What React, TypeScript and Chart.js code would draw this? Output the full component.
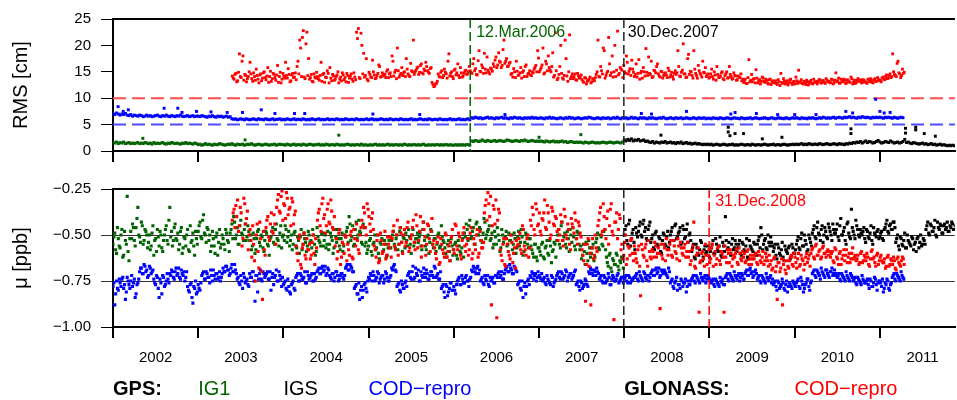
import React, { useEffect, useRef } from 'react';
import { Chart, registerables } from 'chart.js';

Chart.register(...registerables);

const FONT = '"Liberation Sans", Arial, Helvetica, sans-serif';
Chart.defaults.font.family = FONT;

const GREEN = '#006400';
const BLUE = '#0000ff';
const RED = '#ff0000';
const BLACK = '#000000';

// ---------- axes ----------
const X_MIN = 2002;
const X_MAX = 2011.88;
const STEP = 1 / 48; // sampling interval of each value list (~7.6 days)
const yearTicks = [2002, 2003, 2004, 2005, 2006, 2007, 2008, 2009, 2010, 2011];
const yearLabels = ['2002', '2003', '2004', '2005', '2006', '2007', '2008', '2009', '2010', '2011'];
const rmsTicks = [0, 5, 10, 15, 20, 25];
const muTicks = [-1, -0.75, -0.5, -0.25];
const rmsLimits = [10, 5]; // GLONASS limit, GPS limit [cm]
const muRefLines = [-0.5, -0.75];
const eventDates = [2006.192, 2007.995, 2008.997];
const eventLabels = ['12.Mar.2006', '30.Dec.2007', '31.Dec.2008'];
const legendLabels = ['GPS:', 'IG1', 'IGS', 'COD\u2212repro', 'GLONASS:', 'COD\u2212repro'];
const legendAnchorYears = [2002, 2003, 2004, 2005, 2008, 2010];

// ---------- RMS [0.1 cm] ----------
const ig1RmsStart = 2002.0;
const ig1Rms = [
  16,15,17,14,16,15,17,14,15,16,14,15,14,15,16,14,15,14,16,15,14,15,13,16,14,15,14,15,16,14,13,15,14,16,15,14,15,14,13,15,14,16,14,15,14,13,15,14,
  12,13,11,12,14,12,13,12,11,13,12,12,14,13,12,11,12,13,12,14,12,11,13,12,12,13,11,12,13,12,14,12,11,12,13,12,11,12,13,12,11,12,12,13,11,12,13,12,
  12,11,13,12,11,12,13,11,12,12,11,13,12,11,12,13,12,11,12,12,13,11,12,11,13,12,11,12,12,11,13,12,11,12,11,12,13,12,11,12,11,12,12,11,13,11,12,11,
  11,12,11,12,13,11,12,11,12,11,12,13,11,12,11,12,12,11,12,11,13,12,11,12,11,12,12,11,12,11,12,13,11,11,12,11,12,11,12,12,11,12,11,12,12,11,12,11,
  11,12,11,12,11,12,11,12,12,11,19,18,20,19,18,19,21,19,18,20,19,18,19,20,18,19,20,19,18,19,21,20,19,18,19,20,19,18,20,19,21,19,18,19,20,19,18,19,
  18,19,18,17,19,18,17,18,19,17,18,17,18,19,17,18,16,17,18,17,16,17,16,17,16,15,17,16,15,16,17,16,15,16,15,16,17,16,15,16,17,16,15,16,17,16,15,17,
];
const ig1RmsOutliers = [[2002.35, 2.4], [2003.55, 2.1], [2004.65, 3.0], [2007.0, 2.6], [2007.49, 3.1]];

const codRmsStart = 2002.0;
const codRms = [
  71,69,72,70,68,70,69,71,68,67,69,66,68,67,66,68,67,65,66,68,66,67,65,66,67,68,66,65,67,66,68,66,65,67,66,65,67,66,68,66,65,66,67,65,66,67,65,66,
  66,65,67,66,65,64,66,65,67,65,64,66,65,66,64,65,66,64,65,61,60,61,59,60,61,60,59,61,60,59,60,61,60,59,61,60,60,59,61,60,59,60,61,59,60,60,61,59,
  60,59,61,60,59,60,61,59,60,60,59,61,60,59,60,59,61,60,59,60,61,59,60,59,60,61,59,60,60,59,61,60,59,60,59,61,60,59,60,60,59,61,60,59,60,59,60,61,
  59,60,61,59,60,59,60,61,60,59,60,59,61,60,59,60,60,59,61,60,59,60,59,60,61,59,60,59,60,61,60,59,60,59,61,60,59,60,60,59,61,60,59,60,59,60,61,59,
  60,59,60,61,59,60,59,60,61,59,63,62,64,63,62,63,61,62,63,64,62,63,62,61,63,62,63,64,62,63,62,61,63,62,64,63,62,63,62,61,63,62,63,62,64,62,63,62,
  62,63,62,61,63,62,64,62,63,62,61,62,63,62,61,63,62,64,62,63,61,62,63,62,61,62,63,62,64,63,62,61,62,63,62,61,63,62,62,63,61,62,63,62,64,62,61,63,
  62,63,61,62,64,62,63,62,61,63,62,63,62,61,63,62,63,62,61,62,63,62,64,62,61,62,63,62,61,63,62,62,63,61,62,63,62,61,62,63,62,61,63,62,62,63,61,62,
  62,61,63,62,62,61,63,62,61,62,63,62,61,62,63,62,62,61,63,62,61,62,62,63,61,62,63,62,61,62,62,63,62,61,62,63,62,61,62,63,62,62,61,63,62,61,62,63,
  62,63,62,61,63,62,62,61,63,62,63,62,61,62,63,62,64,63,62,63,62,63,64,62,63,64,63,62,64,63,64,65,63,64,63,62,64,63,65,64,63,64,63,62,64,63,64,63,
  64,63,62,64,63,64,63,62,64,63,62,63,64,63,
];
const codRmsOutliers = [
  [2002.06, 8.4], [2002.12, 7.5], [2002.18, 7.8], [2002.6, 8.1], [2002.76, 8.1], [2002.81, 7.3], [2002.98, 7.5],
  [2003.15, 7.4], [2003.34, 7.3], [2003.52, 7.3], [2003.74, 7.8], [2003.9, 7.1], [2004.13, 7.1], [2004.25, 7.1],
  [2005.05, 7.0], [2005.6, 6.9], [2006.6, 6.9], [2008.2, 7.1], [2008.32, 7.0], [2008.73, 7.5], [2009.25, 7.0],
  [2009.3, 7.3], [2009.55, 7.1], [2009.8, 6.9], [2010.0, 6.9], [2010.25, 6.9], [2010.6, 7.5], [2010.68, 7.2],
  [2010.95, 9.8], [2011.0, 7.5], [2011.05, 7.2], [2011.12, 7.3],
];

const igsRmsStart = 2008.0;
const igsRms = [
  21,19,22,20,23,19,21,20,22,19,20,21,18,19,17,16,18,15,17,16,15,17,16,18,15,16,17,15,16,14,16,15,17,14,15,16,14,15,13,14,15,13,14,13,12,13,12,13,
  12,13,11,12,13,12,11,12,13,12,11,12,12,13,11,12,11,12,13,12,11,12,12,11,13,12,11,12,12,11,12,13,12,11,12,12,13,11,12,12,11,12,13,12,11,12,12,13,
  12,13,12,13,14,12,13,12,14,13,12,13,13,12,14,13,12,13,14,13,12,13,14,13,12,14,13,13,12,14,13,15,14,16,15,17,16,18,15,17,19,16,18,17,15,16,18,20,
  17,15,16,18,17,16,19,17,15,16,17,15,16,18,22,16,17,15,14,16,15,14,13,14,15,13,14,12,13,14,12,13,11,12,13,11,12,11,10,11,10,11,10,
];
const igsRmsOutliers = [
  [2008.43, 3.0], [2009.22, 3.6], [2009.22, 4.5], [2009.24, 2.9], [2009.3, 3.3], [2009.4, 3.3], [2009.62, 2.3],
  [2009.85, 2.6], [2010.66, 3.3], [2010.66, 4.2], [2011.3, 3.4], [2011.3, 4.3], [2011.42, 4.5], [2011.42, 4.0],
  [2011.52, 3.3], [2011.65, 2.8],
];

const glonassRmsStart = 2003.4;
const glonassRms = [
  142,136,147,133,184,139,180,145,131,141,168,137,148,134,143,129,146,138,150,135,158,141,132,147,139,144,130,149,136,142,168,138,145,133,147,140,135,170,210,141,228,137,225,175,139,132,146,138,
  141,134,168,145,130,139,147,158,133,142,136,144,129,140,148,135,131,143,138,146,132,140,225,232,137,200,185,143,136,149,140,172,144,138,147,160,141,146,145,151,139,148,180,142,153,195,140,147,
  143,150,175,146,141,152,210,150,157,145,162,148,155,168,152,147,158,126,123,128,146,140,152,143,149,138,184,147,141,153,144,165,139,148,142,151,145,150,152,147,175,156,144,190,150,158,185,148,
  153,146,155,165,172,158,186,168,162,210,170,160,166,145,140,150,170,143,148,138,152,160,141,147,144,150,155,162,190,150,158,195,148,165,180,153,160,140,224,135,145,200,138,143,175,132,220,141,
  137,146,134,142,139,135,130,138,132,136,129,137,133,145,210,140,152,195,138,148,215,143,180,150,141,227,147,155,139,150,180,146,156,172,149,145,140,173,148,138,150,194,143,147,170,141,152,160,
  146,140,150,143,148,139,152,144,141,147,145,190,142,149,203,146,140,183,151,143,190,147,138,152,144,170,148,141,146,140,155,136,144,160,139,142,150,135,146,138,160,141,137,143,134,142,139,133,
  130,136,128,173,134,131,137,154,129,135,132,138,130,134,127,136,131,129,133,126,131,147,128,132,130,125,134,129,131,127,133,153,130,128,132,126,131,129,134,127,130,132,131,135,129,133,128,134,
  132,129,135,130,148,133,128,136,131,134,129,133,130,137,131,128,134,132,135,130,133,130,136,131,134,129,137,132,135,133,138,136,141,137,143,139,184,145,141,170,146,143,147,
];
// second set of readings, half a sampling step later
const glonassRmsB = [
  138,145,131,149,141,170,134,143,137,150,146,132,141,155,136,144,133,148,139,142,130,151,137,145,134,162,141,129,147,138,143,156,131,144,139,148,160,146,195,215,140,203,143,136,145,131,140,149,
  137,143,132,147,140,152,129,138,145,134,141,150,136,133,144,139,147,130,142,136,148,135,213,139,223,146,140,175,133,145,139,150,137,143,163,140,148,142,139,154,146,141,170,149,137,152,144,158,
  148,141,155,143,166,150,145,153,159,149,165,146,152,160,149,156,130,122,127,132,141,149,139,155,146,170,142,150,137,155,148,143,158,140,147,153,146,160,149,165,152,145,171,151,163,147,155,178,
  149,157,151,160,178,163,170,158,192,166,175,161,168,147,156,139,151,144,158,149,141,163,146,152,143,148,158,150,176,154,163,146,170,152,158,150,186,143,152,138,160,147,136,210,142,150,137,146,
  141,135,147,138,144,132,139,127,134,140,131,136,139,150,141,160,146,190,143,151,165,148,140,200,153,144,158,153,162,147,168,151,143,155,141,165,147,136,151,158,142,149,178,145,139,153,148,165,
  142,151,138,147,144,157,140,149,136,152,148,160,141,153,146,139,175,145,150,138,155,143,162,147,140,149,158,144,138,146,141,150,134,145,140,148,137,143,150,139,145,136,148,142,135,140,146,136,
  134,128,139,131,145,136,129,138,133,127,140,132,136,129,135,126,133,131,128,135,124,130,137,127,133,129,136,126,132,140,128,131,135,127,130,134,125,132,128,136,131,127,135,129,133,130,137,131,
  130,136,127,134,131,138,129,133,136,128,135,131,140,127,134,130,137,132,129,135,131,128,134,137,130,135,132,139,134,131,140,135,144,138,146,141,150,143,166,148,139,155,149,
];

// ---------- mu [-0.01 ppb] ----------
const ig1MuStart = 2002.0;
const ig1Mu = [
  55,49,60,52,57,47,61,53,29,64,48,44,53,46,35,51,43,55,47,50,54,58,49,61,52,47,56,50,59,50,45,55,35,48,53,44,53,58,48,60,51,56,47,59,54,49,61,52,
  48,43,52,39,50,46,53,59,48,56,51,61,47,55,52,58,49,54,49,44,40,52,46,55,42,50,47,53,45,53,58,49,60,52,47,56,51,59,48,55,61,51,46,55,44,53,49,57,
  50,45,54,48,53,58,49,56,51,60,47,55,52,59,48,54,57,50,61,46,53,56,49,53,57,48,55,51,60,47,54,52,58,49,56,51,46,40,53,45,55,43,50,48,54,44,56,60,
  56,52,61,54,58,50,63,55,59,53,62,57,51,53,48,57,50,55,46,59,52,49,56,51,60,47,54,52,54,49,58,43,56,51,60,47,55,52,59,50,57,45,53,57,62,53,64,56,
  58,54,63,56,60,52,49,44,53,42,51,46,55,43,50,47,54,41,52,48,45,52,57,48,55,50,59,47,54,51,56,49,53,58,49,60,51,56,47,61,54,50,57,52,58,62,55,64,
  57,61,54,63,56,60,53,65,58,55,53,47,57,43,51,55,48,59,50,46,56,52,49,58,63,55,66,60,53,62,57,64,54,49,58,51,56,47,62,67,60,70,64,66,61,69,65,63,
];
const ig1MuB = [
  51,58,46,56,50,62,48,55,59,52,52,46,56,41,50,54,45,53,48,57,50,56,45,53,59,51,48,57,53,47,53,42,51,56,46,52,49,55,46,57,52,50,58,45,53,56,48,55,
  45,51,42,49,54,47,50,56,52,60,49,54,57,50,55,47,53,59,47,52,43,50,55,45,49,53,44,51,48,50,56,52,58,48,54,50,57,53,49,56,52,48,54,47,52,56,45,51,
  53,47,51,56,50,55,48,57,53,51,58,49,54,56,50,53,47,55,59,51,54,49,56,50,55,58,49,53,57,51,47,56,52,59,50,48,54,44,51,56,47,52,42,49,55,46,54,58,
  53,59,55,50,57,60,54,52,58,55,61,53,57,50,55,52,58,48,54,51,57,53,47,55,50,56,52,49,51,56,47,53,58,50,54,48,57,52,55,49,56,51,54,60,55,59,52,61,
  55,61,53,59,57,62,51,47,45,52,48,55,44,50,46,53,49,43,50,47,53,49,55,51,46,53,57,50,52,48,55,53,50,55,52,57,48,54,51,59,49,55,52,56,60,55,62,57,
  59,55,62,57,53,61,56,59,54,62,50,55,45,53,49,57,52,47,54,51,58,48,55,56,61,59,54,64,57,60,55,62,52,57,50,55,48,58,65,61,68,63,66,60,67,64,62,68,
];

const codMuStart = 2002.0;
const codMu = [
  78,88,75,80,76,74,79,85,73,77,75,78,74,82,76,70,68,71,67,69,72,68,70,74,77,73,84,76,72,78,75,74,71,69,73,70,72,68,74,71,70,73,78,81,76,87,79,82,
  77,80,72,70,74,71,73,69,75,72,71,74,70,73,68,70,67,69,71,66,70,69,74,76,72,79,73,75,77,71,73,70,86,72,74,69,75,71,72,70,74,80,71,73,69,75,72,78,
  77,75,80,78,82,76,79,73,71,75,72,74,70,76,72,73,71,75,74,70,68,71,67,69,72,68,72,74,71,73,70,75,72,71,74,68,66,69,67,70,79,77,82,85,78,80,76,81,
  73,71,75,72,74,70,76,73,72,74,71,75,73,68,67,69,78,76,81,77,79,75,72,70,74,67,73,71,69,75,72,68,73,71,74,70,72,67,73,71,74,79,77,84,78,81,76,80,
  78,82,75,73,77,74,76,72,75,74,69,67,70,68,71,75,73,77,74,72,78,75,73,76,72,71,73,70,74,69,67,70,68,71,67,69,77,75,80,84,76,78,74,72,70,74,71,73,
  72,74,75,73,77,74,76,72,78,75,72,70,74,71,73,69,75,72,71,73,70,77,75,80,76,78,74,77,70,68,71,69,72,70,74,72,76,73,75,71,77,74,73,75,72,76,74,73,
  74,72,76,73,75,74,73,71,75,72,74,70,73,72,75,71,69,72,68,70,73,69,71,70,72,68,76,74,79,75,80,77,74,78,76,81,75,77,74,72,76,73,75,71,74,73,76,72,
  74,76,74,78,75,77,73,76,77,73,71,75,72,74,70,73,72,75,71,74,71,69,72,68,70,72,69,74,72,76,73,75,71,74,73,76,77,75,80,76,78,74,79,77,81,76,78,75,
  77,76,74,79,75,81,77,74,78,76,71,69,73,70,72,68,71,73,69,72,70,68,71,72,73,71,75,72,74,70,73,75,72,75,73,77,74,76,72,75,76,74,79,75,78,73,77,76,
  75,78,81,76,74,79,77,73,71,75,72,74,70,73,
];
const codMuB = [
  76,82,79,74,78,73,77,81,75,79,72,76,84,77,74,68,71,66,70,73,67,71,69,76,72,79,74,82,73,77,71,76,72,70,74,68,71,73,69,72,75,70,80,77,84,78,75,81,
  79,76,71,74,70,73,76,72,69,74,71,73,75,71,70,67,69,72,68,70,66,71,73,77,75,71,76,74,78,73,70,75,72,81,71,74,70,73,71,74,70,73,77,72,75,70,74,73,
  76,79,74,81,77,75,80,72,75,71,74,73,76,70,74,72,75,71,73,69,71,68,70,67,71,69,73,71,75,70,72,74,71,73,72,67,69,66,68,70,78,82,76,80,84,77,79,75,
  74,72,70,75,73,71,74,72,76,70,73,75,72,69,66,70,77,80,75,79,76,78,71,73,70,74,68,72,75,70,73,71,69,74,72,70,73,68,72,74,70,78,81,77,83,79,76,80,
  80,77,74,77,72,76,73,75,78,73,70,68,71,67,69,74,76,72,75,77,73,74,76,72,73,70,72,74,71,68,70,66,69,71,68,70,76,79,75,78,82,75,77,73,71,72,75,70,
  73,71,74,76,72,75,77,73,76,74,71,73,70,74,72,70,73,71,74,72,69,76,78,75,79,77,75,78,71,69,72,70,68,71,73,75,72,76,74,73,77,72,75,74,71,75,73,76,
  73,75,72,76,74,73,72,74,70,73,75,71,74,72,73,70,72,69,71,68,72,70,69,71,73,70,75,78,76,73,77,79,75,76,74,78,77,75,73,75,72,74,76,73,75,72,74,73,
  75,75,77,74,76,78,75,74,77,72,74,71,73,75,72,74,71,73,72,74,70,72,69,71,73,70,71,73,75,72,74,76,73,75,72,74,76,78,75,79,77,76,80,75,78,77,79,76,
  78,75,78,73,77,79,76,74,80,75,70,72,69,71,74,70,72,69,71,73,70,72,69,71,72,74,71,73,75,72,74,71,73,74,76,73,75,77,74,76,75,77,74,78,76,74,80,75,
  76,74,79,77,75,80,76,72,74,71,73,75,72,74,
];

const igsMuStart = 2008.0;
const igsMu = [
  50,45,55,42,52,47,58,49,48,43,51,42,46,53,45,54,50,58,48,56,52,60,49,55,51,57,50,46,53,44,51,48,55,45,52,47,54,49,59,55,63,57,61,53,64,58,60,56,
  62,57,53,60,55,59,51,62,56,40,58,54,61,52,57,55,57,53,61,55,59,52,63,56,58,54,60,55,51,46,58,53,57,50,56,54,59,55,63,57,61,54,64,58,60,56,62,57,
  60,55,51,58,49,56,53,59,50,54,49,45,52,43,50,47,54,46,51,44,48,53,47,49,44,53,41,50,46,55,43,51,36,48,52,45,50,47,50,46,54,48,52,45,55,49,51,47,
  51,48,53,46,42,49,44,47,43,54,50,58,52,56,49,57,53,55,51,58,54,52,57,50,55,53,47,43,50,45,48,42,51,46,44,49,45,47,43,48,46,44,47,
];
const igsMuB = [
  47,53,44,56,49,54,46,51,45,50,44,48,52,47,43,52,57,49,55,51,59,53,50,56,48,54,48,53,45,52,49,46,54,47,51,44,50,53,57,62,55,60,58,54,62,56,59,61,
  59,55,60,52,58,56,61,54,59,53,57,60,55,58,53,59,55,60,54,58,56,62,53,57,59,55,61,53,57,50,55,52,58,54,51,56,57,61,55,60,58,62,56,59,57,63,55,60,
  58,53,57,52,56,50,55,58,52,56,47,51,46,49,53,45,50,48,52,46,50,44,49,47,51,45,50,48,53,44,49,52,46,50,42,47,51,49,48,52,47,51,49,53,46,50,48,52,
  49,52,47,44,48,45,47,43,46,52,56,51,55,53,57,50,54,56,52,55,59,51,54,56,52,55,45,49,44,48,46,50,43,47,45,49,44,46,48,45,43,47,45,
];

const glonassMuStart = 2003.4;
const glonassMu = [
  42,36,34,31,45,38,52,33,41,58,47,62,55,75,44,68,52,85,58,46,40,53,38,49,44,35,28,38,26,33,41,30,36,45,32,39,56,64,50,68,55,61,52,58,63,54,60,52,
  42,36,48,30,39,45,33,44,37,47,56,63,49,66,54,60,51,55,61,48,63,52,44,58,50,42,35,46,33,40,48,38,56,62,50,64,53,59,48,61,55,51,52,45,58,42,55,49,
  60,47,54,43,57,50,42,58,45,53,40,56,47,61,44,52,48,55,57,63,51,65,55,60,49,62,56,54,47,60,45,58,51,63,49,56,55,61,49,63,52,58,47,60,53,57,38,31,
  27,40,88,34,44,95,36,58,64,52,67,55,61,50,65,57,53,55,49,60,47,58,52,62,42,35,47,33,45,38,50,42,31,47,38,52,35,44,40,48,47,39,53,36,50,44,55,41,
  46,38,52,43,49,58,64,86,55,67,88,52,61,57,45,38,50,33,47,41,55,36,48,96,43,52,39,58,63,54,66,56,61,52,64,60,65,56,83,58,62,55,67,59,63,59,54,62,
  57,90,61,55,64,58,58,53,62,56,60,52,64,57,61,55,59,62,66,58,43,68,60,92,64,59,67,61,61,65,57,67,59,63,56,66,60,92,62,58,65,60,63,62,58,66,60,64,
  62,65,59,66,61,63,63,60,66,61,65,59,64,62,67,66,69,63,70,85,65,68,88,64,71,67,64,61,67,62,68,60,66,63,69,62,65,61,60,57,63,55,61,58,62,56,60,59,
  61,62,59,65,58,63,60,66,61,64,58,62,65,60,63,61,63,66,60,65,61,64,62,67,59,63,65,61,66,62,64,65,68,62,67,63,66,64,69,62,66,64,63,
];
const glonassMuB = [
  38,46,40,48,35,56,30,44,37,50,53,45,64,50,59,43,70,48,61,42,51,44,48,39,55,31,37,29,42,34,27,39,35,30,44,37,60,52,66,57,49,63,58,55,61,50,66,57,
  38,45,33,41,49,36,43,31,46,40,52,59,47,62,55,50,64,58,50,62,47,56,53,60,46,45,38,50,36,44,41,47,58,53,65,49,60,55,63,51,57,62,48,56,50,61,46,54,
  50,56,46,59,52,46,54,39,57,48,62,43,51,55,45,59,41,53,60,54,66,52,58,62,50,59,64,51,58,44,56,49,61,53,46,59,52,58,46,60,55,50,62,48,57,54,34,42,
  33,29,45,36,31,42,38,61,55,66,52,59,63,54,60,68,56,52,58,45,56,61,50,57,45,39,50,36,44,48,41,38,46,34,43,50,37,45,41,53,50,43,56,40,52,47,58,44,
  49,42,55,45,51,61,55,66,52,60,57,63,50,59,42,35,48,40,52,37,45,33,50,43,38,47,41,55,61,50,63,57,53,60,56,63,58,67,55,61,57,64,53,62,58,62,56,60,
  60,55,63,57,52,61,55,61,53,59,63,56,54,60,57,62,54,59,64,56,67,61,57,65,60,63,55,66,58,63,55,61,66,57,64,59,62,56,65,60,58,67,61,60,65,57,63,59,
  60,64,58,63,66,61,61,65,59,64,62,66,60,64,61,64,68,62,67,65,70,63,66,69,64,68,62,66,60,65,63,67,61,64,66,60,63,67,58,62,56,61,59,63,57,60,62,58,
  59,60,64,57,62,66,59,63,58,61,65,60,63,57,62,64,61,65,59,64,62,60,66,63,58,62,67,60,64,61,65,63,67,61,66,64,62,68,63,65,67,62,66,
];

// ---------- helpers ----------
const toPoints = (start: number, vals: number[], scale: number) =>
  vals.map((v, i) => ({ x: start + i * STEP, y: v * scale }));
const pairs = (arr: number[][]) => arr.map(([x, y]) => ({ x, y }));
const twoSets = (start: number, a: number[], b: number[], scale: number) =>
  toPoints(start, a, scale).concat(toPoints(start + STEP / 2, b, scale));

const ds = (data: any[], color: string, order: number, radius: number) => ({
  data,
  backgroundColor: color,
  borderColor: color,
  pointStyle: 'rect',
  pointRadius: radius,
  pointHoverRadius: radius,
  pointBorderWidth: 0,
  showLine: false,
  order,
});

const commonOptions = {
  responsive: false,
  maintainAspectRatio: false,
  animation: false,
  devicePixelRatio: 1,
  events: [],
  plugins: { legend: { display: false }, tooltip: { enabled: false } },
};

function vDash(ctx: any, x: number, top: number, bottom: number, color: string) {
  ctx.save();
  ctx.strokeStyle = color;
  ctx.lineWidth = 1.5;
  ctx.setLineDash([9, 4]);
  ctx.beginPath();
  ctx.moveTo(x, top);
  ctx.lineTo(x, bottom);
  ctx.stroke();
  ctx.restore();
}

function topBorder(ctx: any, a: any) {
  ctx.save();
  ctx.strokeStyle = BLACK;
  ctx.lineWidth = 2;
  ctx.beginPath();
  ctx.moveTo(a.left - 1, a.top);
  ctx.lineTo(a.right, a.top);
  ctx.stroke();
  ctx.restore();
}

const topDecor = {
  id: 'topDecor',
  beforeDatasetsDraw(chart: any) {
    const { ctx, chartArea: a, scales } = chart;
    const colors = ['#ff4d4d', '#4d4dff'];
    ctx.save();
    ctx.lineWidth = 2;
    ctx.setLineDash([13, 6]);
    rmsLimits.forEach((v, i) => {
      const py = scales.y.getPixelForValue(v);
      ctx.strokeStyle = colors[i];
      ctx.beginPath();
      ctx.moveTo(a.left, py);
      ctx.lineTo(a.right, py);
      ctx.stroke();
    });
    ctx.restore();
  },
  afterDatasetsDraw(chart: any) {
    const { ctx, chartArea: a, scales } = chart;
    const x0 = scales.x.getPixelForValue(eventDates[0]);
    const x1 = scales.x.getPixelForValue(eventDates[1]);
    vDash(ctx, x0, a.top, a.bottom, GREEN);
    vDash(ctx, x1, a.top, a.bottom, '#222');
    ctx.save();
    ctx.font = `16px ${FONT}`;
    ctx.textBaseline = 'alphabetic';
    ctx.fillStyle = GREEN;
    ctx.fillText(eventLabels[0], x0 + 6, a.top + 18);
    ctx.fillStyle = BLACK;
    ctx.fillText(eventLabels[1], x1 + 4, a.top + 18);
    ctx.restore();
    topBorder(ctx, a);
  },
};

const bottomDecor = {
  id: 'bottomDecor',
  afterDatasetsDraw(chart: any) {
    const { ctx, chartArea: a, scales } = chart;
    const x1 = scales.x.getPixelForValue(eventDates[1]);
    const x2 = scales.x.getPixelForValue(eventDates[2]);
    vDash(ctx, x1, a.top, a.bottom, '#222');
    vDash(ctx, x2, a.top, a.bottom, RED);
    ctx.save();
    ctx.font = `16px ${FONT}`;
    ctx.fillStyle = RED;
    ctx.textBaseline = 'alphabetic';
    ctx.fillText(eventLabels[2], x2 + 6, a.top + 17);
    ctx.restore();
    topBorder(ctx, a);
  },
  afterDraw(chart: any) {
    const { ctx, scales } = chart;
    const colors = [BLACK, GREEN, BLACK, BLUE, BLACK, RED];
    const bold = [true, false, false, false, true, false];
    ctx.save();
    ctx.textBaseline = 'alphabetic';
    legendLabels.forEach((t, i) => {
      ctx.font = `${bold[i] ? 'bold ' : ''}20px ${FONT}`;
      ctx.fillStyle = colors[i];
      ctx.fillText(t, scales.x.getPixelForValue(legendAnchorYears[i]), chart.height - 5);
    });
    ctx.restore();
  },
};

const xBase = (labels: boolean, height: number) => ({
  type: 'linear',
  min: X_MIN,
  max: X_MAX,
  afterBuildTicks: (s: any) => {
    s.ticks = yearTicks.map((v) => ({ value: v }));
  },
  ticks: {
    display: labels,
    autoSkip: false,
    maxRotation: 0,
    labelOffset: 42.7,
    padding: 11,
    color: BLACK,
    font: { family: FONT, size: 15 },
    callback: (_v: any, i: number) => yearLabels[i],
  },
  grid: { drawOnChartArea: false, drawTicks: true, tickLength: 11, color: BLACK, lineWidth: 2 },
  border: { display: true, color: BLACK, width: 2 },
  afterFit: (s: any) => {
    s.height = height;
  },
});

function topConfig(): any {
  const r = 2.1;
  return {
    type: 'scatter',
    data: {
      datasets: [
        ds(twoSets(glonassRmsStart, glonassRms, glonassRmsB, 0.1), RED, 1, 2.0),
        ds(toPoints(codRmsStart, codRms, 0.1), BLUE, 2, r),
        ds(pairs(codRmsOutliers), BLUE, 2, r),
        ds(toPoints(igsRmsStart, igsRms, 0.1), BLACK, 3, r),
        ds(pairs(igsRmsOutliers), BLACK, 3, r),
        ds(toPoints(ig1RmsStart, ig1Rms, 0.1), GREEN, 4, r),
        ds(pairs(ig1RmsOutliers), GREEN, 4, r),
      ],
    },
    options: {
      ...commonOptions,
      layout: { padding: { top: 14, left: 0, right: 0, bottom: 0 } },
      scales: {
        x: xBase(false, 14),
        y: {
          type: 'linear',
          min: 0,
          max: 25,
          afterBuildTicks: (s: any) => {
            s.ticks = rmsTicks.map((v) => ({ value: v }));
          },
          ticks: { color: BLACK, padding: 10, font: { family: FONT, size: 15 }, callback: (v: any) => String(v) },
          grid: { drawOnChartArea: false, tickLength: 12, color: BLACK, lineWidth: 1 },
          border: { display: true, color: BLACK, width: 2 },
          title: { display: true, text: 'RMS [cm]', color: BLACK, font: { family: FONT, size: 20 }, padding: { top: 9, bottom: 0 } },
          afterFit: (s: any) => {
            s.width = 113;
          },
        },
      },
    },
    plugins: [topDecor],
  };
}

function bottomConfig(): any {
  const r = 2.2;
  return {
    type: 'scatter',
    data: {
      datasets: [
        ds(twoSets(glonassMuStart, glonassMu, glonassMuB, -0.01), RED, 1, r),
        ds(twoSets(codMuStart, codMu, codMuB, -0.01), BLUE, 2, r),
        ds(twoSets(igsMuStart, igsMu, igsMuB, -0.01), BLACK, 3, r),
        ds(twoSets(ig1MuStart, ig1Mu, ig1MuB, -0.01), GREEN, 4, r),
      ],
    },
    options: {
      ...commonOptions,
      layout: { padding: { top: 15, left: 0, right: 0, bottom: 0 } },
      scales: {
        x: xBase(true, 73),
        y: {
          type: 'linear',
          min: -1,
          max: -0.25,
          afterBuildTicks: (s: any) => {
            s.ticks = muTicks.map((v) => ({ value: v }));
          },
          ticks: {
            color: BLACK,
            padding: 10,
            font: { family: FONT, size: 15 },
            callback: (v: any) => Number(v).toFixed(2).replace('-', '\u2212'),
          },
          grid: {
            drawOnChartArea: true,
            tickLength: 12,
            color: (c: any) => (c.tick && muRefLines.includes(c.tick.value) ? '#333' : BLACK),
            lineWidth: 1,
          },
          border: { display: true, color: BLACK, width: 2 },
          title: { display: true, text: '\u03bc [ppb]', color: BLACK, font: { family: FONT, size: 20 }, padding: { top: 9, bottom: 0 } },
          afterFit: (s: any) => {
            s.width = 113;
          },
        },
      },
    },
    plugins: [bottomDecor],
  };
}

export default function App() {
  const topRef = useRef<HTMLCanvasElement>(null);
  const botRef = useRef<HTMLCanvasElement>(null);
  useEffect(() => {
    const top = new Chart(topRef.current as HTMLCanvasElement, topConfig());
    const bot = new Chart(botRef.current as HTMLCanvasElement, bottomConfig());
    return () => {
      top.destroy();
      bot.destroy();
    };
  }, []);
  return (
    <div style={{ position: 'absolute', left: 0, top: 0, width: 957, height: 400, background: '#fff', overflow: 'hidden' }}>
      <canvas ref={topRef} width={957} height={170} style={{ position: 'absolute', left: 0, top: 0, width: 957, height: 170 }} />
      <canvas ref={botRef} width={957} height={230} style={{ position: 'absolute', left: 0, top: 170, width: 957, height: 230 }} />
    </div>
  );
}
